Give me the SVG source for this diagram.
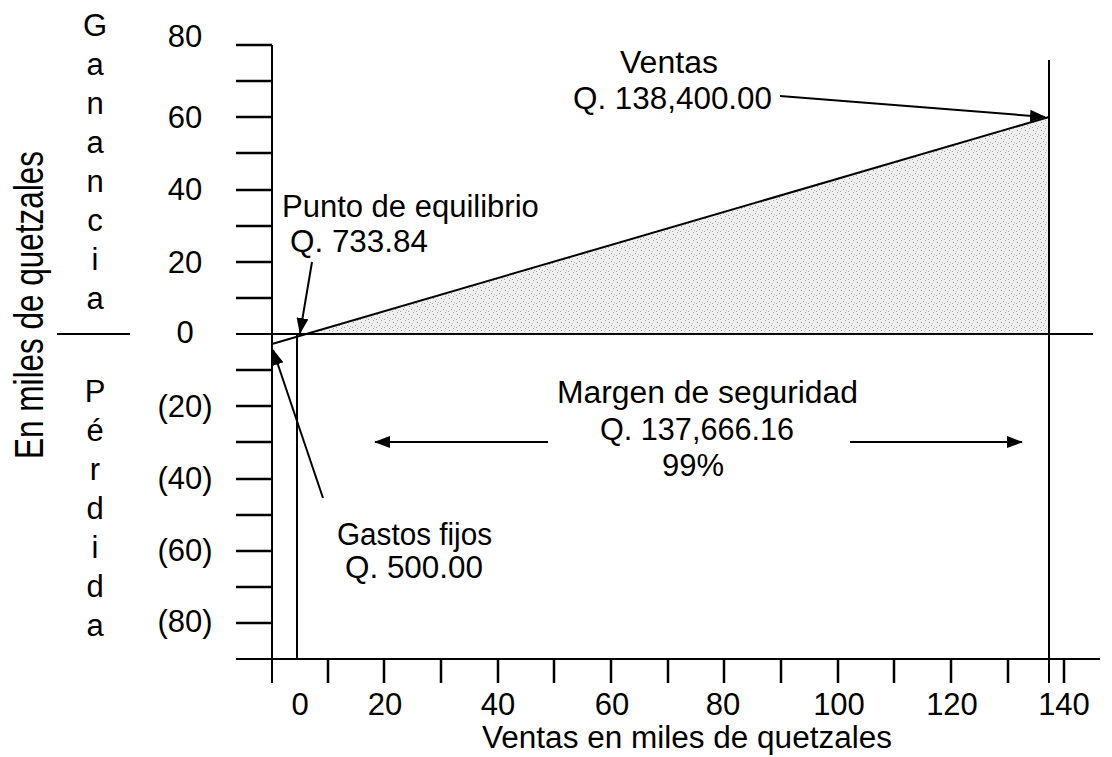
<svg xmlns="http://www.w3.org/2000/svg" width="1112" height="757" viewBox="0 0 1112 757">
<style>
text{font-family:"Liberation Sans",Arial,sans-serif;fill:#000}
.t{font-size:31px}
.n{font-size:31px}
.c{text-anchor:middle}
.ax{stroke:#000;stroke-width:2;fill:none}
.tk{stroke:#000;stroke-width:2.5;fill:none}
.ln{stroke:#000;stroke-width:2;fill:none}
.ar{stroke:#000;stroke-width:2;fill:none;marker-end:url(#ah)}
</style>
<defs>
<marker id="ah" viewBox="0 0 16 12" refX="15" refY="6" markerWidth="16" markerHeight="12" markerUnits="userSpaceOnUse" orient="auto">
<path d="M0,0 L16,6 L0,12 z" fill="#000"/>
</marker>
<pattern id="stip" width="8" height="8" patternUnits="userSpaceOnUse">
<rect width="8" height="8" fill="#efefef"/>
<rect x="1" y="2" width="1" height="1" fill="#8a8a8a"/>
<rect x="5" y="0" width="1" height="1" fill="#a8a8a8"/>
<rect x="3" y="5" width="1" height="1" fill="#959595"/>
<rect x="6" y="6" width="1" height="1" fill="#b8b8b8"/>
<rect x="0" y="7" width="1" height="1" fill="#a0a0a0"/>
<rect x="4" y="3" width="1" height="1" fill="#cacaca"/>
</pattern>
</defs>

<g id="area">
<polygon points="306,334 1049,117 1049,334" fill="url(#stip)"/>
</g>

<g id="axes">
<line class="ax" x1="272" y1="45" x2="272" y2="683"/>
<line class="ax" x1="236" y1="334" x2="1093" y2="334"/>
<line class="ax" x1="236" y1="659" x2="1100" y2="659"/>
<line class="ln" x1="1049" y1="60" x2="1049" y2="683"/>
<line class="ln" x1="297" y1="334" x2="297" y2="659"/>
<line class="ln" x1="272" y1="344" x2="1049" y2="117"/>
</g>

<g id="yticks">
<line class="tk" x1="236" y1="45" x2="272" y2="45"/>
<line class="tk" x1="236" y1="81" x2="272" y2="81"/>
<line class="tk" x1="236" y1="117" x2="272" y2="117"/>
<line class="tk" x1="236" y1="153" x2="272" y2="153"/>
<line class="tk" x1="236" y1="190" x2="272" y2="190"/>
<line class="tk" x1="236" y1="226" x2="272" y2="226"/>
<line class="tk" x1="236" y1="262" x2="272" y2="262"/>
<line class="tk" x1="236" y1="298" x2="272" y2="298"/>
<line class="tk" x1="236" y1="370" x2="272" y2="370"/>
<line class="tk" x1="236" y1="406" x2="272" y2="406"/>
<line class="tk" x1="236" y1="442" x2="272" y2="442"/>
<line class="tk" x1="236" y1="479" x2="272" y2="479"/>
<line class="tk" x1="236" y1="515" x2="272" y2="515"/>
<line class="tk" x1="236" y1="551" x2="272" y2="551"/>
<line class="tk" x1="236" y1="587" x2="272" y2="587"/>
<line class="tk" x1="236" y1="623" x2="272" y2="623"/>
</g>

<g id="xticks">
<line class="tk" x1="328" y1="659" x2="328" y2="683"/>
<line class="tk" x1="384" y1="659" x2="384" y2="683"/>
<line class="tk" x1="441" y1="659" x2="441" y2="683"/>
<line class="tk" x1="498" y1="659" x2="498" y2="683"/>
<line class="tk" x1="554" y1="659" x2="554" y2="683"/>
<line class="tk" x1="611" y1="659" x2="611" y2="683"/>
<line class="tk" x1="668" y1="659" x2="668" y2="683"/>
<line class="tk" x1="724" y1="659" x2="724" y2="683"/>
<line class="tk" x1="781" y1="659" x2="781" y2="683"/>
<line class="tk" x1="838" y1="659" x2="838" y2="683"/>
<line class="tk" x1="894" y1="659" x2="894" y2="683"/>
<line class="tk" x1="951" y1="659" x2="951" y2="683"/>
<line class="tk" x1="1008" y1="659" x2="1008" y2="683"/>
<line class="tk" x1="1064" y1="659" x2="1064" y2="683"/>
</g>

<g id="ylabels">
<text class="n c" x="185" y="47">80</text>
<text class="n c" x="185" y="128">60</text>
<text class="n c" x="185" y="200">40</text>
<text class="n c" x="185" y="273">20</text>
<text class="n c" x="185" y="343">0</text>
<text class="n c" x="185" y="417">(20)</text>
<text class="n c" x="185" y="489">(40)</text>
<text class="n c" x="185" y="561">(60)</text>
<text class="n c" x="185" y="632">(80)</text>
</g>

<g id="xlabels">
<text class="n c" x="300" y="715">0</text>
<text class="n c" x="385" y="715">20</text>
<text class="n c" x="498" y="715">40</text>
<text class="n c" x="612" y="715">60</text>
<text class="n c" x="723" y="715">80</text>
<text class="n c" x="839" y="715">100</text>
<text class="n c" x="952" y="715">120</text>
<text class="n c" x="1064" y="715">140</text>
</g>

<g id="xtitle">
<text class="t" x="482" y="748" textLength="410" lengthAdjust="spacingAndGlyphs">Ventas en miles de quetzales</text>
</g>

<g id="ytitle">
<text class="c" style="font-size:31.5px" transform="translate(43,305) rotate(-90) scale(1,1.3)">En miles de quetzales</text>
</g>

<g id="ganancia">
<text class="n c" x="95" y="36">G</text>
<text class="n c" x="95" y="75">a</text>
<text class="n c" x="95" y="114">n</text>
<text class="n c" x="95" y="153">a</text>
<text class="n c" x="95" y="192">n</text>
<text class="n c" x="95" y="231">c</text>
<text class="n c" x="95" y="270">i</text>
<text class="n c" x="95" y="309">a</text>
<line class="ax" x1="57" y1="334" x2="130" y2="334"/>
<text class="n c" x="95" y="402">P</text>
<text class="n c" x="95" y="441">é</text>
<text class="n c" x="95" y="480">r</text>
<text class="n c" x="95" y="519">d</text>
<text class="n c" x="95" y="558">i</text>
<text class="n c" x="95" y="597">d</text>
<text class="n c" x="95" y="636">a</text>
</g>

<g id="ventas">
<text class="t" x="620" y="73" textLength="98" lengthAdjust="spacingAndGlyphs">Ventas</text>
<text class="t" x="573" y="109" textLength="199" lengthAdjust="spacingAndGlyphs">Q. 138,400.00</text>
</g>

<g id="equilibrio">
<text class="t" x="282" y="217">Punto de equilibrio</text>
<text class="t" x="290" y="252" textLength="138" lengthAdjust="spacingAndGlyphs">Q. 733.84</text>
</g>

<g id="gastos">
<text class="t" x="337" y="545" textLength="155" lengthAdjust="spacingAndGlyphs">Gastos fijos</text>
<text class="t" x="345" y="578" textLength="138" lengthAdjust="spacingAndGlyphs">Q. 500.00</text>
</g>

<g id="margen">
<text class="t" x="557" y="403" textLength="301" lengthAdjust="spacingAndGlyphs">Margen de seguridad</text>
<text class="t" x="600" y="440" textLength="194" lengthAdjust="spacingAndGlyphs">Q. 137,666.16</text>
<text class="t c" x="693" y="476">99%</text>
</g>

<g id="connectors">
<line class="ar" x1="780" y1="96" x2="1045" y2="117"/>
<line class="ar" x1="312" y1="262" x2="300" y2="333"/>
<line class="ar" x1="323" y1="498" x2="273" y2="350"/>
<line class="ar" x1="548" y1="442" x2="375" y2="442"/>
<line class="ar" x1="850" y1="442" x2="1022" y2="442"/>
</g>
</svg>
